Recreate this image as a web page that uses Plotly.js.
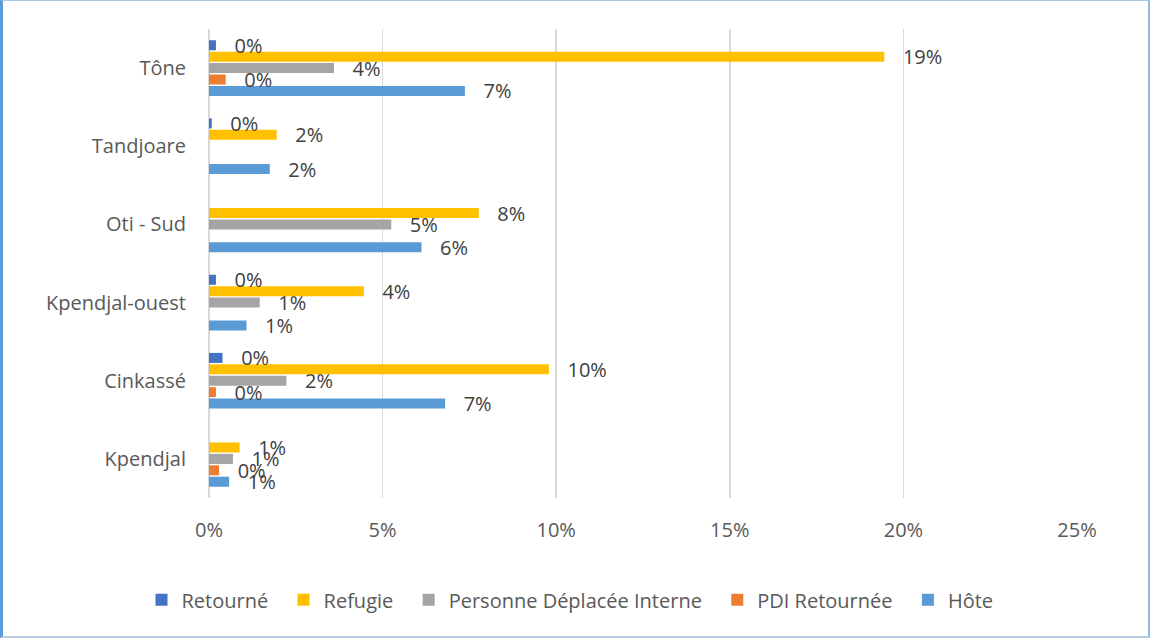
<!DOCTYPE html>
<html>
<head>
<meta charset="utf-8">
<script src="https://cdn.plot.ly/plotly-3.0.1.min.js"></script>
<style>
  html, body { margin: 0; padding: 0; background: #fff; }
  #wrap { position: relative; width: 1150px; height: 638px; }
  #chart { position: absolute; left: 0; top: 0; width: 1150px; height: 638px; }
  #frame { position: absolute; left: 0; top: 0; width: 1150px; height: 638px; box-sizing: border-box;
           border-top: 1px solid #a9cbea; border-right: 2px solid #8fb8e2; border-bottom: 2px solid #b9cde0;
           border-left: 3px solid #5b9bd5; pointer-events: none; }
</style>
</head>
<body>
<div id="wrap"><div id="chart"></div><div id="frame"></div></div>
<script>
// Categories, bottom to top
const categories = ["Kpendjal", "Cinkassé", "Kpendjal-ouest", "Oti - Sud", "Tandjoare", "Tône"];

// Series values (shares)
const hote          = [0.0058, 0.068, 0.0108, 0.0612, 0.0175, 0.0737];
const pdiRetournee  = [0.0029, 0.0020, null,   null,   null,   0.0048];
const pdi           = [0.0069, 0.0223, 0.0146, 0.0525, null,   0.0360];
const refugie       = [0.0088, 0.0979, 0.0446, 0.0777, 0.0195, 0.1945];
const retourne      = [null,   0.0039, 0.0020, null,   0.0008, 0.0020];

const seriesNames = ["Hôte", "PDI Retournée", "Personne Déplacée Interne", "Refugie", "Retourné"];
const seriesValues = [hote, pdiRetournee, pdi, refugie, retourne];
const seriesColors = ["#5b9bd5", "#ed7d31", "#a5a5a5", "#ffc000", "#4472c4"];

const xTickVals = [0, 0.05, 0.10, 0.15, 0.20, 0.25];

const FONT = "Open Sans, Noto Sans, sans-serif";
const pad = "\u00a0\u00a0\u00a0";
const trail = "\u00a0\u00a0";

const traces = seriesNames.map((name, i) => ({
  type: "bar",
  orientation: "h",
  name: name + trail,
  y: categories,
  x: seriesValues[i],
  marker: { color: seriesColors[i] },
  texttemplate: pad + "%{x:.0%}",
  textposition: "outside",
  constraintext: "none",
  cliponaxis: false,
  textfont: { family: FONT, size: 20, color: "#404040" },
  hoverinfo: "x+y+name"
}));

const layout = {
  width: 1150,
  height: 638,
  paper_bgcolor: "#ffffff",
  plot_bgcolor: "#ffffff",
  margin: { l: 209, r: 73, t: 29, b: 140 },
  barmode: "group",
  bargap: 0.27,
  bargroupgap: 0.12,
  font: { family: FONT, size: 19, color: "#595959" },
  xaxis: {
    range: [0, 0.25],
    tickvals: xTickVals,
    tickformat: ".0%",
    showgrid: true,
    gridcolor: "#d9d9d9",
    gridwidth: 1.5,
    zeroline: true,
    zerolinecolor: "#d9d9d9",
    zerolinewidth: 1.5,
    showline: false,
    ticks: "outside",
    ticklen: 14,
    tickcolor: "rgba(0,0,0,0)",
    tickfont: { family: FONT, size: 20, color: "#595959" }
  },
  yaxis: {
    type: "category",
    categoryorder: "array",
    categoryarray: categories,
    showgrid: false,
    zeroline: false,
    showline: false,
    ticks: "outside",
    ticklen: 18,
    tickcolor: "rgba(0,0,0,0)",
    tickfont: { family: FONT, size: 20, color: "#595959" }
  },
  legend: {
    orientation: "h",
    traceorder: "reversed",
    xref: "container",
    yref: "container",
    x: 0.5,
    xanchor: "center",
    y: 0.06,
    yanchor: "middle",
    font: { family: FONT, size: 20, color: "#595959" },
    itemwidth: 30
  },
  showlegend: true
};

Plotly.newPlot("chart", traces, layout, { displayModeBar: false, staticPlot: true });
</script>
</body>
</html>
